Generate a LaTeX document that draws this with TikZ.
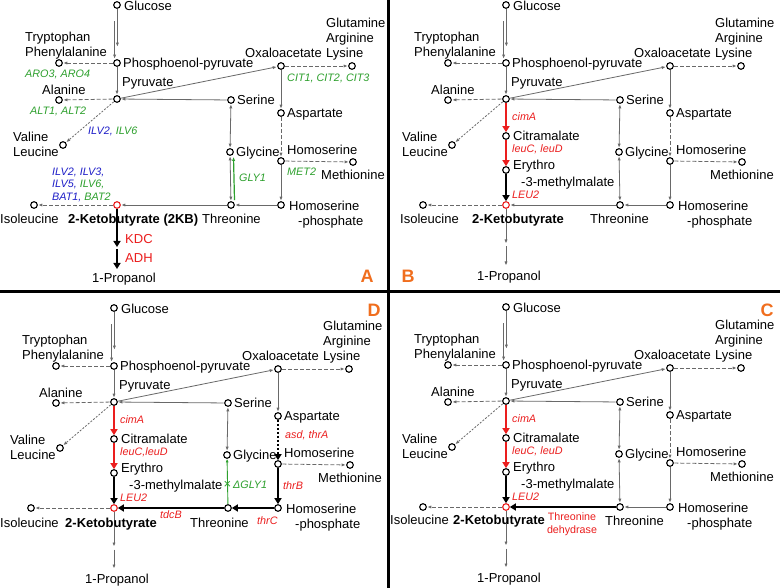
\documentclass[tikz,border=0pt]{standalone}
\usepackage{fontspec}
\setmainfont{Liberation Sans}
\usetikzlibrary{arrows.meta,calc}
\definecolor{lg}{RGB}{105,105,105}
\definecolor{gr}{RGB}{45,160,45}
\definecolor{bl}{RGB}{30,30,200}
\definecolor{rd}{RGB}{235,30,30}
\definecolor{og}{RGB}{240,110,30}
\newcommand\lab{\fontsize{13}{15}\selectfont}
\newcommand\gen{\fontsize{10.8}{13}\selectfont\itshape}
\newcommand\smr{\fontsize{10.7}{13}\selectfont}
\tikzset{
 met/.style={circle,draw=black,fill=white,line width=1.1pt,minimum size=6.6pt,inner sep=0pt},
 lb/.style={font=\lab,inner sep=0pt,anchor=west,text height=9.3pt,text depth=0pt},
 gn/.style={font=\gen,inner sep=0pt,anchor=west,text height=7.8pt,text depth=0pt},
 ln/.style={draw=lg,line width=0.8pt,-{Latex[length=4pt,width=3.2pt]},shorten >=0.5pt,shorten <=0.5pt},
 dl/.style={ln,dash pattern=on 4pt off 2pt},
 dd/.style={ln,dash pattern=on 2pt off 1.5pt},
 bi/.style={ln,{Latex[length=4pt,width=3.2pt]}-{Latex[length=4pt,width=3.2pt]}},
 rthk/.style={draw=rd,line width=2.8pt,-{Triangle[length=6pt,width=7pt]}},
 kthk/.style={draw=black,line width=2.6pt,-{Triangle[length=6pt,width=7pt]}},
 plet/.style={font=\fontsize{18}{20}\selectfont\bfseries,text=og,inner sep=0pt},
 sep/.style={draw=black,line width=3pt},
}
\newcommand\core[1]{%
 \node[met] (#1glc) at (117,5) {};
 \node[lb] (#1glct) at (124,6) {Glucose};
 \node[met] (#1pep) at (117,63) {};
 \node[lb] (#1pept) at (123,63) {Phosphoenol-pyruvate};
 \node[met] (#1pyr) at (117,99) {};
 \node[lb] (#1pyrt) at (122,82) {Pyruvate};
 \node[met] (#1trp) at (59,63) {};
 \node[lb] (#1trpt) at (25,37) {Tryptophan};
 \node[lb] (#1phet) at (25,52) {Phenylalanine};
 \node[met] (#1ala) at (59,100) {};
 \node[lb] (#1alat) at (42,90) {Alanine};
 \node[met] (#1val) at (63,145) {};
 \node[lb] (#1valt) at (13,137) {Valine};
 \node[lb] (#1leut) at (13,152) {Leucine};
 \node[met] (#1oaa) at (281,66) {};
 \node[lb] (#1oaat) at (245,53) {Oxaloacetate};
 \node[met] (#1lys) at (352,66) {};
 \node[lb] (#1glnt) at (326,23) {Glutamine};
 \node[lb] (#1argt) at (326,38) {Arginine};
 \node[lb] (#1lyst) at (326,53) {Lysine};
 \node[met] (#1ser) at (231,100) {};
 \node[lb] (#1sert) at (237,100) {Serine};
 \node[met] (#1asp) at (281,113) {};
 \node[lb] (#1aspt) at (287,113) {Aspartate};
 \node[met] (#1gly) at (230,152) {};
 \node[lb] (#1glyt) at (236,152) {Glycine};
 \node[met] (#1hom) at (281,161) {};
 \node[lb] (#1homt) at (287,150) {Homoserine};
 \node[met] (#1met) at (353,162) {};
 \node[lb] (#1mett) at (321,175) {Methionine};
 \node[met] (#1thr) at (231,205) {};
 \node[met] (#1hp) at (281,205) {};
 \node[lb] (#1hpt) at (289,206) {Homoserine};
 \node[lb] (#1hpt2) at (298,221) {-phosphate};
 \node[met,draw=rd] (#1kb) at (117,205) {};
 \node[met] (#1ile) at (34,205) {};
 \draw[ln] ([xshift=0.4pt]#1glc.south) -- ([xshift=0.4pt,yshift=12pt]#1pep.north);
 \draw[ln] ([xshift=-2.4pt,yshift=-12pt]#1glc.south) -- ([xshift=-2.4pt]#1pep.north);
 \draw[dl] (#1pep) -- (#1trp);
 \draw[ln] (#1pep) -- (#1pyr);
 \draw[dl] (#1pyr) -- (#1ala);
 \draw[dd] (#1pyr) -- (#1val);
 \draw[ln] (#1pyr) -- (#1oaa);
 \draw[ln] (#1ser) -- (#1pyr);
 \draw[dl] (#1oaa) -- (#1lys);
 \draw[ln] (#1oaa) -- (#1asp);
 \draw[bi] (#1ser) -- (#1gly);
 \draw[dl] (#1hom) -- (#1met);
 \draw[dl] (#1kb) -- (#1ile);
}
\newcommand\leuroute[2]{%
 \node[met] (#1cit) at (117,136) {};
 \node[lb] (#1citt) at (124,136) {Citramalate};
 \node[met] (#1ery) at (117,170) {};
 \node[lb] (#1eryt) at (124,165) {Erythro};
 \node[lb] (#1eryt2) at (132,182) {-3-methylmalate};
 \node[gn,text=rd] (#1g1) at (123,117) {cimA};
 \node[gn,text=rd] (#1g2) at (123,149) {#2};
 \node[gn,text=rd] (#1g3) at (123,195) {LEU2};
 \draw[rthk] (#1pyr) -- (#1cit);
 \draw[rthk] (#1cit) -- (#1ery);
 \draw[kthk] (#1ery) -- (#1kb);
 \coordinate (#1p1) at (117,244);
 \coordinate (#1p2) at (117,246);
 \coordinate (#1p3) at (117,266);
 \draw[ln] (#1kb) -- (#1p1);
 \draw[ln] (#1p2) -- (#1p3);
 \node[lb] (#1prop) at (88,276) {1-Propanol};
}
\begin{document}
\begin{tikzpicture}[x=1pt,y=-1pt]
\useasboundingbox (0,0) rectangle (780,588);
\fill[white] (0,0) rectangle (780,588);
% ---------------- Panel A
\begin{scope}
 \core{a}
 \node[lb] (athrt) at (202,219) {Threonine};
 \node[lb,font=\lab\bfseries] (akbt) at (68,219) {2-Ketobutyrate (2KB)};
 \node[lb] (ailet) at (0,219) {Isoleucine};
 \draw[dl] (aasp) -- (ahom);
 \draw[ln] (ahom) -- (ahp);
 \draw[ln] (ahp) -- (athr);
 \draw[ln] (athr) -- (akb);
 \draw[bi] (agly) -- (athr);
 \draw[draw=gr,line width=1.2pt,-{Latex[length=4pt,width=3.2pt]}] ([xshift=3.5pt,yshift=1pt]athr.north) -- ([xshift=3.5pt,yshift=-1pt]agly.south);
 \node[gn,text=gr] (ag1) at (25,74) {ARO3, ARO4};
 \node[gn,text=gr] (ag2) at (30,111) {ALT1, ALT2};
 \node[gn] (ag3) at (88,131) {\textcolor{bl}{ILV2,} \textcolor{gr}{ILV6}};
 \node[gn,text=gr] (ag4) at (287,78) {CIT1, CIT2, CIT3};
 \node[gn,text=gr] (ag5) at (287,172) {MET2};
 \node[gn,text=gr] (ag6) at (239,178) {GLY1};
 \node[gn,text=bl] (ag7) at (52,172) {ILV2, ILV3,};
 \node[gn] (ag8) at (52,184) {\textcolor{bl}{ILV5,} \textcolor{gr}{ILV6,}};
 \node[gn] (ag9) at (52,197) {\textcolor{bl}{BAT1,} \textcolor{gr}{BAT2}};
 \coordinate (ak1) at (117,247);
 \coordinate (ak2) at (117,249);
 \coordinate (ak3) at (117,269);
 \draw[kthk] (akb) -- (ak1);
 \draw[kthk] (ak2) -- (ak3);
 \node[lb,text=rd] (akdc) at (125,239) {KDC};
 \node[lb,text=rd] (aadh) at (125,258) {ADH};
 \node[lb] (aprop) at (92,278) {1-Propanol};
 \node[plet] (aletter) at (367,276) {A};
\end{scope}
% ---------------- Panel B
\begin{scope}[shift={(389,0)}]
 \core{b}
 \leuroute{b}{leuC, leuD}
 \node[lb] (bthrt) at (201,219) {Threonine};
 \node[lb,font=\lab\bfseries] (bkbt) at (83,219) {2-Ketobutyrate};
 \node[lb] (bilet) at (11,219) {Isoleucine};
 \draw[dl] (basp) -- (bhom);
 \draw[ln] (bhom) -- (bhp);
 \draw[ln] (bhp) -- (bthr);
 \draw[ln] (bthr) -- (bkb);
 \draw[bi] (bgly) -- (bthr);
 \node[plet] (bletter) at (19,276) {B};
\end{scope}
% ---------------- Panel D
\begin{scope}[shift={(-3,303)}]
 \core{d}
 \leuroute{d}{leuC,leuD}
 \node[lb] (dthrt) at (193,220) {Threonine};
 \node[lb,font=\lab\bfseries] (dkbt) at (68,220) {2-Ketobutyrate};
 \node[lb] (dilet) at (3,220) {Isoleucine};
 \draw[kthk,dash pattern=on 2pt off 2pt] (dasp) -- (dhom);
 \draw[kthk] (dhom) -- (dhp);
 \draw[kthk] (dhp) -- (dthr);
 \draw[kthk] (dthr) -- (dkb);
 \draw[draw=gr,line width=0.9pt,-{Latex[length=3.5pt,width=3pt]}] (dthr) -- (dgly);
 \node[font=\lab,text=gr,inner sep=0pt] (dx) at (230.5,182) {×};
 \node[gn,text=gr] (dg0) at (236,182) {ΔGLY1};
 \node[gn,text=rd] (dg4) at (288,132) {asd, thrA};
 \node[gn,text=rd] (dg5) at (286,183) {thrB};
 \node[gn,text=rd] (dg6) at (260,218) {thrC};
 \node[gn,text=rd] (dg7) at (163,212) {tdcB};
 \node[plet] (dletter) at (377,7) {D};
\end{scope}
% ---------------- Panel C
\begin{scope}[shift={(389,302)}]
 \core{c}
 \leuroute{c}{leuC, leuD}
 \node[lb] (cthrt) at (216,219) {Threonine};
 \node[lb,font=\lab\bfseries] (ckbt) at (64,218) {2-Ketobutyrate};
 \node[lb] (cilet) at (1,218) {Isoleucine};
 \draw[dl] (casp) -- (chom);
 \draw[ln] (chom) -- (chp);
 \draw[ln] (chp) -- (cthr);
 \draw[kthk] (cthr) -- (ckb);
 \draw[bi] (cgly) -- (cthr);
 \node[font=\smr,text=rd,inner sep=0pt] (cg1) at (183,215) {Threonine};
 \node[font=\smr,text=rd,inner sep=0pt] (cg2) at (183,229) {dehydrase};
 \node[plet] (cletter) at (378,8) {C};
\end{scope}
% ---------------- separators
\draw[sep] (388.5,0) -- (388.5,588);
\draw[sep] (0,292) -- (780,292);
\end{tikzpicture}
\end{document}
